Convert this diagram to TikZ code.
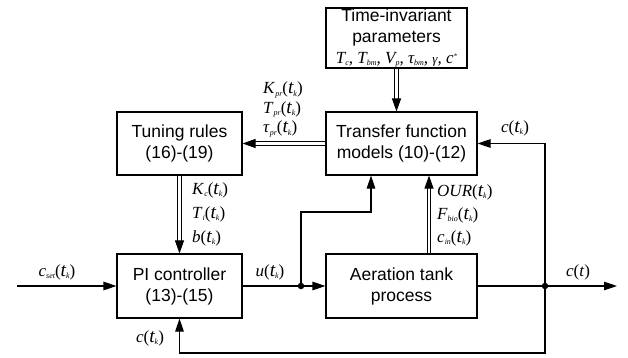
\documentclass[tikz,border=0pt]{standalone}
\usepackage{fontspec}
\setmainfont{Liberation Sans}
\newfontfamily\sr{Liberation Serif}
\usetikzlibrary{arrows.meta}
\newcommand\sbs[1]{\raisebox{-0.35ex}{\fontsize{8}{8}\selectfont\itshape #1}}
\newcommand\tk{{\fontsize{19.5}{19.5}\selectfont\itshape t}\sbs{k}}
\begin{document}
\begin{tikzpicture}[x=1pt,y=-1pt,
  box/.style={draw, line width=1.1pt, inner sep=0pt, align=center, font=\fontsize{17.5}{21}\selectfont},
  ln/.style={line width=1.1pt},
  arr/.style={ln, -{Triangle[length=13pt,width=8.5pt]}},
  dbl/.style={line width=1pt, double, double distance=2.6pt, -{Triangle[length=13pt,width=9pt]}},
  lab/.style={font=\sr\fontsize{17}{19}\selectfont, inner sep=0pt},
  dot/.style={circle, fill, inner sep=0pt, minimum size=6.5pt}]
\useasboundingbox (0,0) rectangle (628,358);
% boxes
\node[box, minimum width=141pt, minimum height=60pt] (tip) at (396.5,38)
  {Time-invariant\\parameters\\{\sr\itshape\fontsize{17}{18}\selectfont T\sbs{c}, T\sbs{bm}, V\sbs{p}, τ\sbs{bm}, {\fontsize{13}{13}\selectfont γ}, c\raisebox{0.6ex}{\fontsize{7}{7}\selectfont *}}};
\node[box, minimum width=151pt, minimum height=63pt] (tf) at (401.5,143.5) {Transfer function\\models (10)-(12)};
\node[box, minimum width=125pt, minimum height=63pt] (tun) at (179.5,143.5) {Tuning rules\\(16)-(19)};
\node[box, minimum width=125pt, minimum height=64pt] (pi) at (179.5,286) {PI controller\\(13)-(15)};
\node[box, minimum width=151pt, minimum height=64pt] (at) at (401.5,286) {Aeration tank\\process};
% junctions and free ends
\coordinate (in) at (17,286);
\coordinate (out) at (617,286);
\node[dot] (du) at (301,286) {};
\node[dot] (dout) at (545,286) {};
\coordinate (u1) at (301,212);
\coordinate (u2) at (371,212);
\coordinate (r1) at (545,143.5);
\coordinate (b1) at (545,353);
% connectors
\draw[arr] (in) -- (pi.west);
\draw[ln] (pi.east) -- (du);
\draw[arr] (du) -- (at.west);
\draw[arr] (at.east) -- (out);
\draw[arr] (du) -- (u1) -- (u2) -- (u2 |- tf.south);
\draw[arr] (dout) -- (r1) -- (tf.east);
\draw[arr] (dout) -- (b1) -| (pi.south);
\draw[dbl] (tip.south) -- (tip.south |- tf.north);
\draw[dbl] (tf.west) -- (tun.east);
\draw[dbl] (tun.south) -- (pi.north);
\draw[dbl] ([xshift=27.5pt]at.north) -- ([xshift=27.5pt]at.north |- tf.south);
% labels
\node[lab, anchor=west] (kpr) at (263,90) {\textit{K}\sbs{pr}(\tk)};
\node[lab, anchor=west] (tpr) at (263,109.5) {\textit{T}\sbs{pr}(\tk)};
\node[lab, anchor=west] (taupr) at (263,129) {\textit{τ}\sbs{pr}(\tk)};
\node[lab] (ctk1) at (515,128) {\textit{c}(\tk)};
\node[lab, anchor=west] (kc) at (192,190) {\textit{K}\sbs{c}(\tk)};
\node[lab, anchor=west] (ti) at (192,214) {\textit{T}\sbs{i}(\tk)};
\node[lab, anchor=west] (bt) at (192,238) {\textit{b}(\tk)};
\node[lab, anchor=west] (our) at (437,192) {\textit{OUR}(\tk)};
\node[lab, anchor=west] (fbio) at (437,215) {\textit{F}\sbs{bio}(\tk)};
\node[lab, anchor=west] (cin) at (437,238) {\textit{c}\sbs{in}(\tk)};
\node[lab] (cset) at (57,272) {\textit{c}\sbs{set}(\tk)};
\node[lab] (ut) at (270,272) {\textit{u}(\tk)};
\node[lab] (ct) at (578,272) {\textit{c}(\textit{t})};
\node[lab] (ctk2) at (150,338) {\textit{c}(\tk)};
\end{tikzpicture}
\end{document}
